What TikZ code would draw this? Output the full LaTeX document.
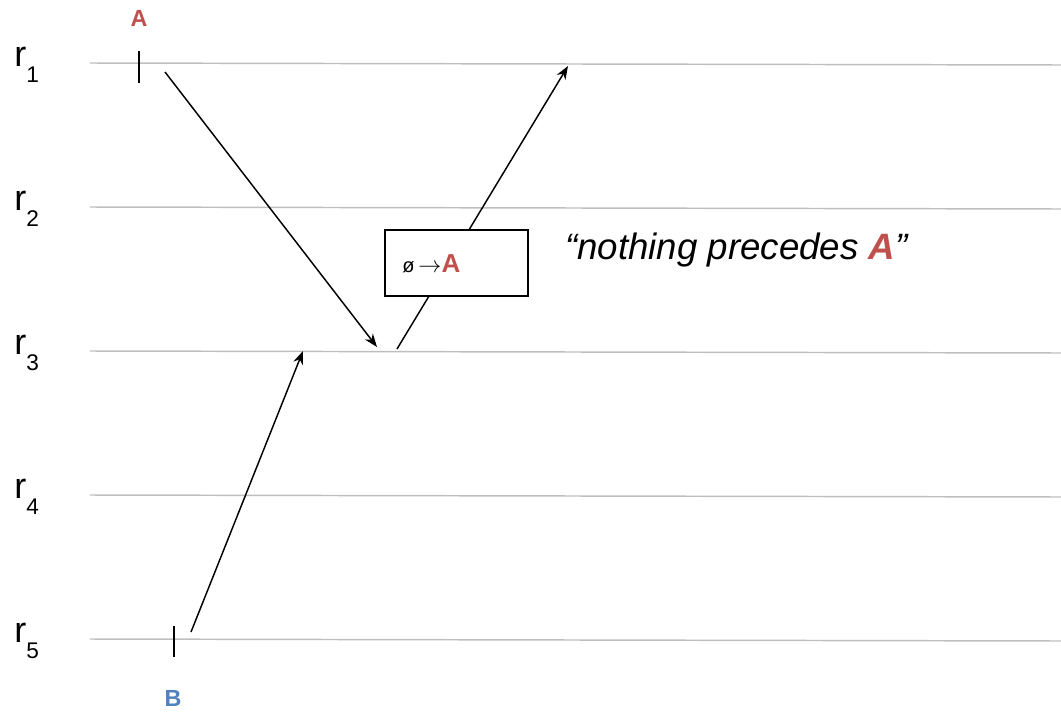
\documentclass[tikz,border=0pt]{standalone}
\usepackage{fontspec}
\setmainfont{Liberation Sans}
\usetikzlibrary{arrows.meta}
\definecolor{ared}{RGB}{192,80,77}
\definecolor{bblue}{RGB}{79,129,189}
\definecolor{rule}{RGB}{190,190,190}
\begin{document}
\begin{tikzpicture}[x=0.75pt,y=-0.75pt,
  round/.style={draw=rule,line width=1.1pt},
  tick/.style={draw=black,line width=1.1pt},
  msg/.style={draw=black,line width=1.1pt,-{Stealth[length=10pt,width=7.5pt]}},
  rlabel/.style={font=\fontsize{27}{30}\selectfont,inner sep=0pt,anchor=base west},
  proc/.style={font=\fontsize{17.5}{20}\selectfont\bfseries,inner sep=0pt},
  stamp/.style={draw=black,line width=1.1pt,fill=white,minimum width=107pt,minimum height=49.5pt,inner sep=0pt}
]
\useasboundingbox (0,0) rectangle (1061,714);
% round lines
\foreach \i/\y in {1/63,2/207,3/351,4/495,5/639}{
  \coordinate (L\i) at (90,\y);
  \coordinate (R\i) at (1061,\y+2);
  \draw[round] (L\i) -- (R\i);
  \node[rlabel] (r\i) at (14,\y+3) {r\raisebox{-0.45em}{\fontsize{17}{20}\selectfont\i}};
}
% process labels and ticks
\node[proc,text=ared] (A) at (139,18) {A};
\node[proc,text=bblue] (B) at (173,698) {B};
\coordinate (a1) at (139,51); \coordinate (a2) at (139,83);
\coordinate (b1) at (174,626); \coordinate (b2) at (174,657);
\draw[tick] (a1) -- (a2);
\draw[tick] (b1) -- (b2);
% messages
\coordinate (s1) at (165,72); \coordinate (e1) at (377,347);
\coordinate (s2) at (191,632); \coordinate (e2) at (303,351);
\coordinate (s3) at (397,349); \coordinate (e3) at (568,66);
\draw[msg] (s1) -- (e1);
\draw[msg] (s2) -- (e2);
\draw[msg] (s3) -- (e3);
% box
\node[stamp] (box) at (456.5,263) {};
\node[anchor=west,inner sep=0pt] (bt) at (402,264) {{\fontsize{15}{17}\selectfont ø}\hspace{3pt}{\fontsize{19}{20}\selectfont$\rightarrow$}{\fontsize{19.5}{21}\selectfont\bfseries\color{ared}A}};
% quote
\node[anchor=west,inner sep=0pt,font=\fontsize{27.5}{30}\selectfont\itshape] (q) at (565,250) {“nothing precedes {\bfseries\color{ared}A}”};
\end{tikzpicture}
\end{document}
